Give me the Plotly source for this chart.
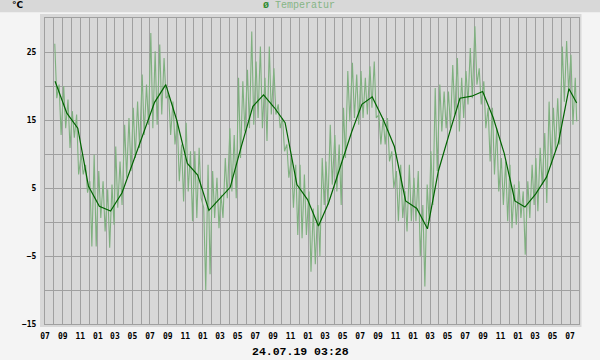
import plotly.graph_objects as go
import pandas as pd

# ---- data ----
# running average (dark line)
avg_dates = ["2014-08-05", "2014-09-15", "2014-10-23", "2014-11-29", "2015-01-06", "2015-02-14",
             "2015-03-26", "2015-05-03", "2015-06-11", "2015-07-17", "2015-08-25", "2015-10-02",
             "2015-11-08", "2015-12-14", "2016-01-22", "2016-02-27", "2016-04-05", "2016-05-13",
             "2016-06-23", "2016-07-30", "2016-09-06", "2016-10-13", "2016-11-23", "2016-12-30",
             "2017-02-06", "2017-03-13", "2017-04-22", "2017-06-02", "2017-07-07", "2017-08-12",
             "2017-09-20", "2017-10-28", "2017-12-06", "2018-01-14", "2018-02-20", "2018-03-30",
             "2018-05-09", "2018-06-13", "2018-07-24", "2018-08-31", "2018-10-07", "2018-11-14",
             "2018-12-21", "2019-01-25", "2019-03-03", "2019-04-10", "2019-05-21", "2019-06-27",
             "2019-07-24"]
avg_temp = [20.7, 16.0, 13.8, 5.3, 2.3, 1.6, 4.3, 8.7, 13.3, 17.6, 20.2, 15.0, 8.6, 6.9, 1.7,
            3.4, 5.1, 11.0, 17.0, 18.7, 16.8, 14.6, 5.5, 3.3, -0.6, 2.8, 7.9, 13.3, 17.3, 18.4,
            15.0, 11.1, 3.1, 2.0, -1.0, 7.5, 13.3, 18.2, 18.5, 19.2, 15.3, 10.1, 3.1, 2.2, 4.1,
            6.6, 11.6, 19.6, 17.5]

# raw temperature: high / low reading per half-month, starting 2014-08 (first half)
half_hi = [26.2, 20.2, 20.0, 18.0, 16.3, 15.8, 9.9, 8.4, 6.0, 9.9, 7.5, 6.0, 4.8, 5.5, 11.1,
           8.9, 14.3, 15.3, 16.8, 17.7, 21.7, 20.2, 27.8, 25.1, 26.1, 24.1, 18.7, 17.7, 14.8,
           11.4, 14.6, 10.4, 10.4, 10.9, 2.1, 8.4, 7.5, 6.5, 4.0, 9.4, 13.8, 12.8, 21.2, 20.7,
           22.4, 28.0, 23.6, 25.8, 21.2, 25.8, 22.6, 17.3, 15.3, 11.4, 9.4, 8.4, 8.4, 7.0, 4.5,
           2.0, 2.5, 9.4, 8.9, 14.3, 12.8, 11.4, 16.8, 22.2, 23.4, 21.7, 22.2, 21.2, 22.9, 23.6,
           15.8, 15.3, 15.3, 10.4, 7.5, 8.4, 4.5, 8.4, 6.5, 7.5, 2.5, 5.5, 10.4, 19.7, 20.2,
           19.2, 19.2, 23.1, 24.1, 21.2, 22.2, 25.6, 28.8, 22.6, 20.7, 16.8, 16.8, 13.8, 9.4,
           8.9, 8.4, 5.5, 6.0, 4.5, 6.0, 8.4, 9.4, 10.9, 13.1, 17.7, 16.8, 18.2, 25.8, 26.6,
           24.6, 21.2]
half_lo = [18.2, 12.8, 13.8, 10.9, 12.4, 7.0, 7.0, 4.3, -3.6, -3.6, 0.6, -1.4, -3.8, -0.4, 2.1,
           2.5, 6.5, 7.5, 9.4, 10.9, 12.8, 14.3, 13.8, 14.3, 15.8, 18.2, 12.8, 11.4, 6.0,
           3.0, 4.5, 0.1, 0.6, 3.5, -10.0, -7.7, 0.6, -0.9, 0.6, 3.5, 4.5, 3.5, 9.4, 13.3,
           13.8, 14.3, 15.3, 13.8, 11.9, 15.8, 15.8, 13.8, 10.4, 6.5, 2.1, -1.9, -2.4, -1.9, -7.3,
           -6.2, -5.0, 2.5, 2.5, 5.5, 4.5, 2.5, 9.4, 14.8, 15.3, 14.3, 15.3, 15.8, 16.8, 15.3,
           11.4, 11.4, 8.9, 5.0, 0.1, 0.6, -1.4, 0.1, 0.1, -5.0, -9.5, 0.1, 2.5, 7.5, 13.3,
           13.8, 13.8, 15.8, 13.3, 15.3, 17.3, 18.2, 20.2, 17.3, 13.8, 8.9, 7.0, 4.5, 2.5,
           0.1, -0.9, -0.4, 0.6, -4.8, 0.6, 2.5, 1.6, 5.5, 2.8, 8.4, 10.4, 11.4, 17.7, 19.2,
           14.3, 14.8]

y_ticks = [-15, -5, 5, 15, 25]

# ---- build the jagged raw series from the half-month readings ----
start = pd.Timestamp("2014-08-01")
end = pd.Timestamp("2019-07-24")
raw_x, raw_y = [], []
for i, (h, l) in enumerate(zip(half_hi, half_lo)):
    month = start + pd.DateOffset(months=i // 2)
    base = 0 if i % 2 == 0 else 15
    d_hi = min(month + pd.Timedelta(days=base + 3), end)
    d_lo = min(month + pd.Timedelta(days=base + 10), end)
    raw_x += [d_hi, d_lo]
    raw_y += [h, l]

fig = go.Figure()
fig.add_trace(go.Scatter(x=raw_x, y=raw_y, mode="lines",
                         line=dict(color="#7fb07f", width=1.1), hoverinfo="skip",
                         showlegend=False))
fig.add_trace(go.Scatter(x=pd.to_datetime(avg_dates), y=avg_temp, mode="lines",
                         line=dict(color="#006400", width=1.2), showlegend=False))

L, R, T, B = 45, 21, 18, 36
W, H = 600, 360
pw, ph = W - L - R, H - T - B

def px(x):
    return (x - L) / pw

def py(y):
    return (H - B - y) / ph

grid = "#a0a0a0"
tickfont = dict(family="DejaVu Sans Mono", size=8, color="#000000", weight="bold")

fig.update_layout(
    width=W, height=H,
    margin=dict(l=L, r=R, t=T, b=B),
    paper_bgcolor="#f4f4f4",
    plot_bgcolor="#d8d8d8",
    showlegend=False,
    xaxis=dict(
        type="date",
        range=["2014-07-01", "2019-08-01"],
        tick0="2014-07-01", dtick="M2", tickformat="%m",
        showgrid=True, gridcolor=grid, gridwidth=1,
        minor=dict(dtick="M1", tick0="2014-07-01", showgrid=True, gridcolor=grid, gridwidth=1),
        ticks="", ticklabelstandoff=4,
        tickfont=tickfont,
        showline=True, mirror=True, linecolor=grid, linewidth=1,
        zeroline=False, fixedrange=True,
    ),
    yaxis=dict(
        range=[-15, 30],
        tickvals=y_ticks,
        showgrid=True, gridcolor=grid, gridwidth=1,
        minor=dict(dtick=5, tick0=-15, showgrid=True, gridcolor=grid, gridwidth=1),
        ticks="", ticklabelstandoff=6,
        tickfont=tickfont,
        showline=True, mirror=True, linecolor=grid, linewidth=1,
        zeroline=False, fixedrange=True,
    ),
)

# header band and frame around the plot
fig.add_shape(type="rect", xref="paper", yref="paper",
              x0=px(0), x1=px(600), y0=py(12.3), y1=py(0),
              fillcolor="#d8d8d8", line=dict(width=0), layer="below")
fig.add_shape(type="rect", xref="paper", yref="paper",
              x0=px(40), x1=px(581.5), y0=py(327), y1=py(14),
              fillcolor="#d8d8d8", line=dict(width=0), layer="below")

fig.add_annotation(xref="paper", yref="paper", x=px(10), y=py(5.5),
                   xanchor="left", yanchor="middle", showarrow=False,
                   text="°C",
                   font=dict(family="DejaVu Sans", size=9, color="#000000", weight="bold"))
fig.add_annotation(xref="paper", yref="paper", x=px(299), y=py(5.5),
                   xanchor="center", yanchor="middle", showarrow=False,
                   text="<span style='color:#2e8b2e'><b>ø</b></span> Temperatur",
                   font=dict(family="Liberation Mono", size=10, color="#86b586"))
fig.add_annotation(xref="paper", yref="paper", x=px(300), y=py(351.7),
                   xanchor="center", yanchor="middle", showarrow=False,
                   text="24.07.19 03:28",
                   font=dict(family="Liberation Mono", size=11.5, color="#000000", weight="bold"))

fig.write_html("out.html", config={"displayModeBar": False},
               post_script="document.body.style.margin='0';document.body.style.background='#f4f4f4';")
